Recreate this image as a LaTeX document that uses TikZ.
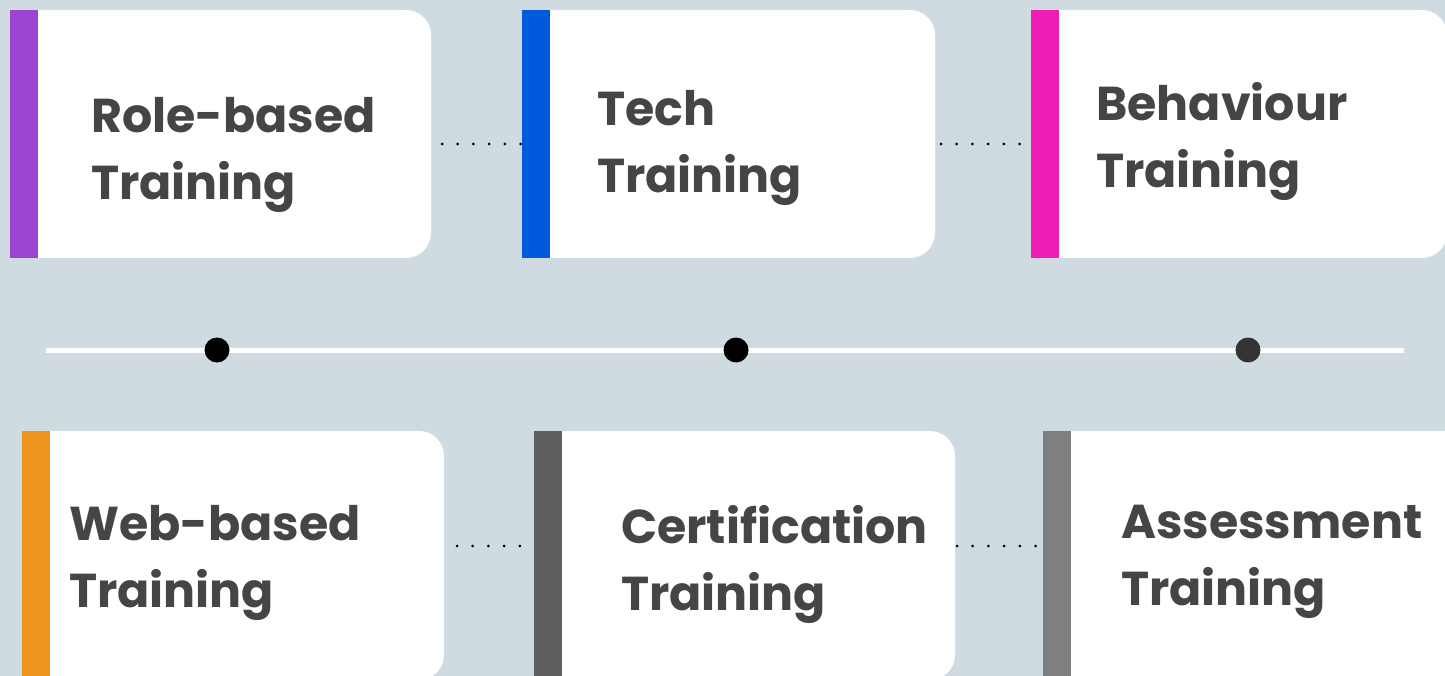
\documentclass[tikz,border=0pt]{standalone}
\usepackage{fontspec}
\newfontfamily\popfont{Poppins}
\definecolor{bgc}{HTML}{CFDBE0}
\definecolor{txtc}{HTML}{454545}
\definecolor{cpurple}{HTML}{9D45D3}
\definecolor{cblue}{HTML}{005BDC}
\definecolor{cpink}{HTML}{F01DB5}
\definecolor{corange}{HTML}{EE951F}
\definecolor{cdgray}{HTML}{5F5F5F}
\definecolor{cgray}{HTML}{7F7F7F}
\definecolor{cdot}{HTML}{333333}
\tikzset{
  card/.style={fill=white, rounded corners=25pt},
  bar/.style={fill=#1},
  label/.style={anchor=base west, align=left, inner sep=0pt, text=txtc,
    font=\popfont\bfseries\fontsize{47.5}{67}\selectfont},
  dotline/.style={line width=3pt, line cap=round, dash pattern=on 0pt off 15.7pt, black},
  tline/.style={white, line width=5pt},
  tdot/.style={circle, fill=#1, minimum size=25pt, inner sep=0pt},
}
\begin{document}
\begin{tikzpicture}[x=1pt,y=-1pt]
\fill[bgc] (0,0) rectangle (1445,676);
\useasboundingbox (0,0) rectangle (1445,676);
% top row
\fill[card] (10,10) rectangle (431,258);
\fill[bar=cpurple] (10,10) rectangle (38,258);
\fill[card] (522,10) rectangle (935,258);
\fill[bar=cblue] (522,10) rectangle (550,258);
\fill[card] (1031,10) rectangle (1447,258);
\fill[bar=cpink] (1031,10) rectangle (1059,258);
% bottom row
\fill[card] (22,431) rectangle (444,680);
\fill[bar=corange] (22,431) rectangle (50,680);
\fill[card] (534,431) rectangle (955,680);
\fill[bar=cdgray] (534,431) rectangle (562,680);
\fill[card] (1043,431) rectangle (1470,680);
\fill[bar=cgray] (1043,431) rectangle (1071,680);
% labels (anchored at the baseline of the last line)
\node[label] (t1) at (91,200) {Role-based\\Training};
\node[label] (t2) at (597,193) {Tech\\Training};
\node[label] (t3) at (1096,188) {Behaviour\\Training};
\node[label] (b1) at (69,607) {Web-based\\Training};
\node[label] (b2) at (621,610) {Certification\\Training};
\node[label] (b3) at (1121,605) {Assessment\\Training};
% dotted connectors
\coordinate (c1a) at (442,144); \coordinate (c1b) at (521,144);
\coordinate (c2a) at (941,144); \coordinate (c2b) at (1020,144);
\coordinate (c3a) at (457,546); \coordinate (c3b) at (521,546);
\coordinate (c4a) at (957,546); \coordinate (c4b) at (1036,546);
\draw[dotline] (c1a) -- (c1b);
\draw[dotline] (c2a) -- (c2b);
\draw[dotline] (c3a) -- (c3b);
\draw[dotline] (c4a) -- (c4b);
% timeline
\coordinate (L) at (46,350); \coordinate (R) at (1404,350);
\draw[tline] (L) -- (R);
\node[tdot=black] (d1) at (217,350) {};
\node[tdot=black] (d2) at (736,350) {};
\node[tdot=cdot] (d3) at (1248,350) {};
\end{tikzpicture}
\end{document}
